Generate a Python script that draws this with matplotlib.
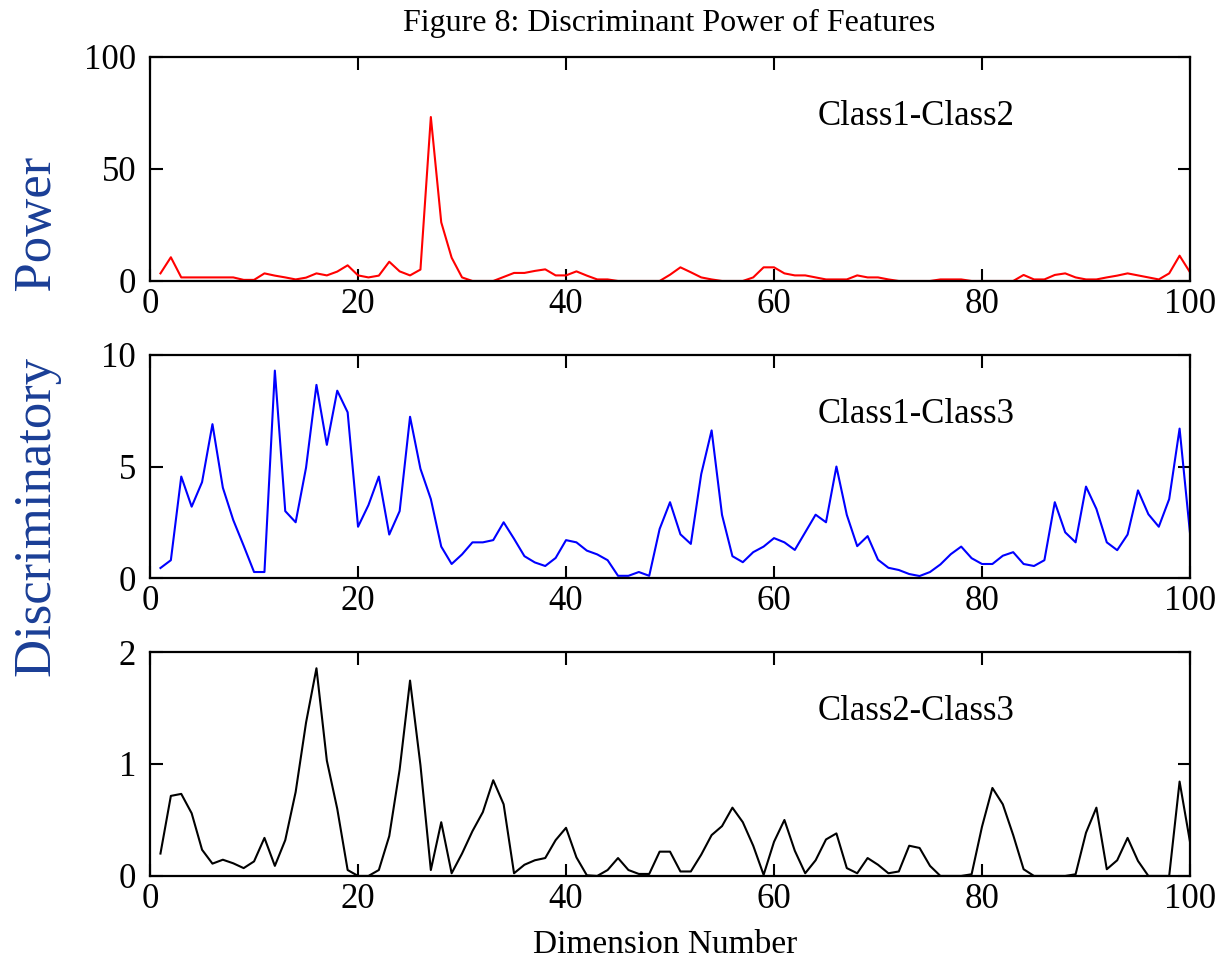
import numpy as np
import matplotlib
matplotlib.use("Agg")
import matplotlib.pyplot as plt

plt.rcParams['font.family'] = ['Liberation Serif', 'DejaVu Serif']

dims = np.arange(1, 101)

# Class1-Class2 discriminant power
c12 = [3.4, 10.6, 1.6, 1.6, 1.6, 1.6, 1.6, 1.6, 0.5, 0.5,
       3.4, 2.4, 1.6, 0.7, 1.5, 3.4, 2.5, 4.2, 7.0, 2.5,
       1.6, 2.4, 8.6, 4.3, 2.5, 5.1, 73.2, 26.2, 10.4, 1.6,
       0.0, 0.0, 0.0, 1.8, 3.6, 3.6, 4.5, 5.2, 2.5, 2.5,
       4.3, 2.4, 0.7, 0.7, 0.0, 0.0, 0.0, 0.0, 0.0, 2.8,
       6.1, 3.9, 1.6, 0.7, 0.0, 0.0, 0.0, 1.6, 6.1, 6.1,
       3.4, 2.5, 2.5, 1.6, 0.7, 0.7, 0.7, 2.5, 1.6, 1.6,
       0.7, 0.0, 0.0, 0.0, 0.0, 0.7, 0.7, 0.7, 0.0, 0.0,
       0.0, 0.0, 0.0, 2.7, 0.7, 0.7, 2.7, 3.4, 1.6, 0.7,
       0.7, 1.6, 2.4, 3.4, 2.5, 1.6, 0.7, 3.4, 11.3, 3.9]

# Class1-Class3
c13 = [0.45, 0.8, 4.55, 3.2, 4.3, 6.9, 4.05, 2.6, 1.45, 0.27,
       0.27, 9.3, 3.0, 2.5, 4.95, 8.66, 5.97, 8.4, 7.43, 2.3,
       3.27, 4.55, 1.95, 3.0, 7.23, 4.9, 3.54, 1.41, 0.63, 1.06,
       1.6, 1.6, 1.7, 2.5, 1.76, 0.98, 0.7, 0.54, 0.9, 1.7,
       1.6, 1.23, 1.06, 0.8, 0.1, 0.1, 0.27, 0.1, 2.2, 3.4,
       1.96, 1.53, 4.66, 6.62, 2.83, 0.98, 0.71, 1.16, 1.41, 1.79,
       1.6, 1.26, 2.05, 2.84, 2.5, 5.0, 2.83, 1.43, 1.88, 0.82,
       0.46, 0.36, 0.18, 0.09, 0.27, 0.61, 1.07, 1.41, 0.89, 0.63,
       0.63, 1.0, 1.16, 0.63, 0.54, 0.8, 3.4, 2.05, 1.6, 4.1,
       3.1, 1.6, 1.25, 1.95, 3.93, 2.86, 2.3, 3.54, 6.7, 2.02]

# Class2-Class3
c23 = [0.2, 0.715, 0.733, 0.56, 0.234, 0.11, 0.145, 0.113, 0.07, 0.13,
       0.34, 0.09, 0.32, 0.75, 1.37, 1.855, 1.03, 0.6, 0.053, 0.0,
       0.0, 0.053, 0.356, 0.95, 1.745, 0.99, 0.053, 0.48, 0.024, 0.2,
       0.4, 0.57, 0.855, 0.64, 0.024, 0.1, 0.14, 0.16, 0.32, 0.43,
       0.166, 0.006, 0.0, 0.053, 0.16, 0.053, 0.018, 0.018, 0.217, 0.217,
       0.04, 0.04, 0.19, 0.365, 0.445, 0.61, 0.48, 0.27, 0.01, 0.305,
       0.5, 0.225, 0.024, 0.14, 0.326, 0.38, 0.07, 0.024, 0.16, 0.1,
       0.024, 0.04, 0.27, 0.25, 0.09, 0.0, 0.0, 0.0, 0.015, 0.44,
       0.786, 0.64, 0.365, 0.06, 0.0, 0.0, 0.0, 0.0, 0.015, 0.386,
       0.61, 0.06, 0.14, 0.34, 0.134, 0.0, 0.0, 0.0, 0.843, 0.305]

series = [c12, c13, c23]
colors = ['#ff0000', '#0000ff', '#000000']
labels = ['Class1-Class2', 'Class1-Class3', 'Class2-Class3']
ylims = [100, 10, 2]
yticks = [[0, 50, 100], [0, 5, 10], [0, 1, 2]]
xticks = [0, 20, 40, 60, 80, 100]

fig = plt.figure(figsize=(12.21, 9.61), dpi=100)
boxes = [(0.7076, 0.9407), (0.3985, 0.6306), (0.0885, 0.3215)]
left, right = 0.1229, 0.9746

for i in range(3):
    b, t = boxes[i]
    ax = fig.add_axes([left, b, right - left, t - b])
    ax.plot(dims, series[i], color=colors[i], lw=1.5)
    ax.set_xlim(0, 100)
    ax.set_ylim(0, ylims[i])
    ax.set_xticks(xticks)
    ax.set_yticks(yticks[i])
    ax.tick_params(direction='in', length=9, width=1.5, labelsize=25,
                   top=True, right=True)
    ax.tick_params(axis='y', pad=10)
    ax.tick_params(axis='x', pad=5)
    for s in ax.spines.values():
        s.set_linewidth(1.6)
    ax.text(0.737, 0.735, labels[i], transform=ax.transAxes, ha='center',
            va='center', fontsize=25)

fig.text(0.548, 0.976, 'Figure 8: Discriminant Power of Features', ha='center',
         va='center', fontsize=23)
fig.text(0.545, 0.017, 'Dimension Number', ha='center', va='center', fontsize=24)
fig.text(0.031, 0.566, 'Discriminatory     Power', rotation=90, ha='center',
         va='center', fontsize=38, color='#1a3e96')

fig.savefig('out.png', dpi=100)
